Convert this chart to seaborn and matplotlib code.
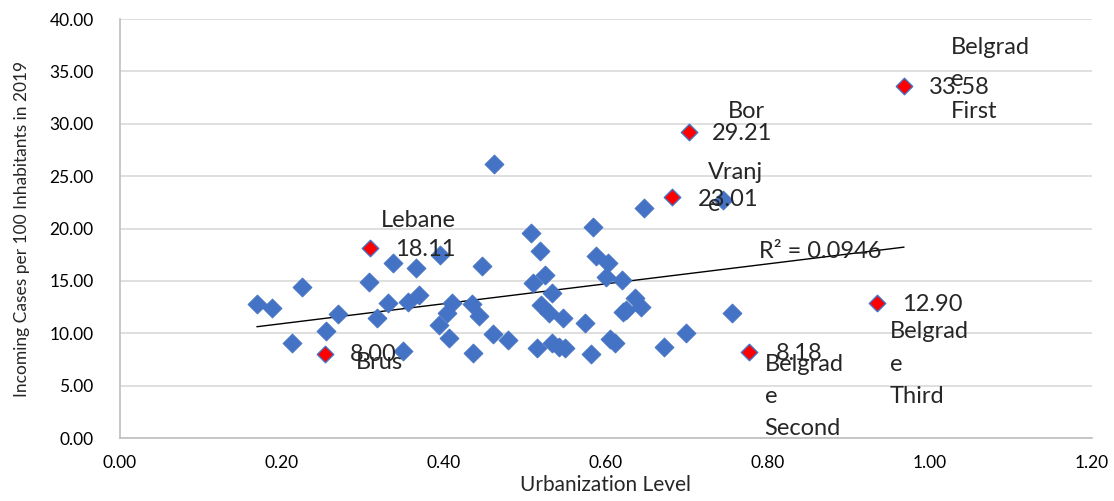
import numpy as np
import pandas as pd
import matplotlib
matplotlib.use("Agg")
import matplotlib.pyplot as plt
import seaborn as sns

# ---- data ----
urban_blue = [0.169, 0.188, 0.225, 0.212, 0.254, 0.269, 0.307, 0.317, 0.337, 0.365,
              0.395, 0.447, 0.331, 0.356, 0.369, 0.410, 0.404, 0.435, 0.443, 0.394,
              0.406, 0.349, 0.436, 0.460, 0.479, 0.462, 0.507, 0.519, 0.584, 0.588,
              0.602, 0.600, 0.620, 0.510, 0.525, 0.533, 0.520, 0.530, 0.547, 0.574,
              0.515, 0.533, 0.542, 0.549, 0.581, 0.605, 0.611, 0.621, 0.625, 0.636,
              0.643, 0.647, 0.744, 0.672, 0.699, 0.756]
cases_blue = [12.80, 12.42, 14.42, 9.07, 10.22, 11.84, 14.90, 11.46, 16.71, 16.24,
              17.48, 16.43, 12.89, 12.99, 13.66, 12.89, 11.94, 12.80, 11.65, 10.79,
              9.55, 8.31, 8.12, 9.93, 9.36, 26.17, 19.58, 17.86, 20.15, 17.38,
              16.71, 15.38, 15.09, 14.80, 15.57, 13.85, 12.70, 11.94, 11.46, 10.98,
              8.60, 9.07, 8.69, 8.60, 8.02, 9.46, 9.07, 12.03, 12.23, 13.37,
              12.51, 21.97, 22.73, 8.69, 10.03, 11.94]

names_red = ["Brus", "Lebane", "Vranje", "Bor", "Belgrade First", "Belgrade Second", "Belgrade Third"]
label_names = ["Brus", "Lebane", "Vranj\ne", "Bor", "Belgrad\ne\nFirst", "Belgrad\ne\nSecond", "Belgrad\ne\nThird"]
urban_red = [0.253, 0.309, 0.681, 0.702, 0.968, 0.777, 0.935]
cases_red = [8.00, 18.11, 23.01, 29.21, 33.58, 8.18, 12.90]

r2_text = "R\u00b2 = 0.0946"
x_ticks = [0.0, 0.2, 0.4, 0.6, 0.8, 1.0, 1.2]
y_ticks = [0, 5, 10, 15, 20, 25, 30, 35, 40]

df_blue = pd.DataFrame({"u": urban_blue, "c": cases_blue})
df_red = pd.DataFrame({"u": urban_red, "c": cases_red, "name": names_red})
df_all = pd.concat([df_blue, df_red[["u", "c"]]], ignore_index=True)

# ---- style ----
sns.set_theme(style="white")
plt.rcParams["font.family"] = ["Lato", "DejaVu Sans"]

fig = plt.figure(figsize=(11.14, 5.01), dpi=100)
ax = fig.add_axes([0.1077, 0.1257, 0.8725, 0.8363])

blue = "#4472C4"
sns.scatterplot(data=df_blue, x="u", y="c", ax=ax, marker="D", s=95,
                color=blue, edgecolor=blue, linewidth=0.5, zorder=3)
sns.scatterplot(data=df_red, x="u", y="c", ax=ax, marker="D", s=70,
                color="#FF0000", edgecolor=blue, linewidth=1.0, zorder=4)
sns.regplot(data=df_all, x="u", y="c", ax=ax, scatter=False, ci=None, truncate=True,
            line_kws={"color": "black", "linewidth": 1.0, "zorder": 2})

ax.set_xlim(0, 1.2)
ax.set_ylim(0, 40)
ax.set_xticks(x_ticks)
ax.set_yticks(y_ticks)
ax.set_xticklabels([f"{t:.2f}" for t in x_ticks])
ax.set_yticklabels([f"{t:.2f}" for t in y_ticks])
ax.tick_params(axis="both", labelsize=12.5, length=0, colors="#000000")
ax.tick_params(axis="y", pad=19)
ax.tick_params(axis="x", pad=12)
ax.grid(axis="y", color="#D9D9D9", linewidth=1.2)
ax.grid(axis="x", visible=False)
for s in ["top", "right"]:
    ax.spines[s].set_visible(False)
for s in ["left", "bottom"]:
    ax.spines[s].set_color("#BFBFBF")
    ax.spines[s].set_linewidth(1.2)
ax.set_axisbelow(True)

ax.set_xlabel("Urbanization Level", fontsize=15, labelpad=3)
ax.set_ylabel("Incoming Cases per 100 Inhabitants in 2019", fontsize=12.5, labelpad=14)

# ---- data labels ----
val_off = [(18, 0), (18, -1), (19, -2), (17, -1), (18, -1), (19, -1), (18, -1)]
name_off = [(22, -6), (8, 20), (26, 6), (28, 15), (34, 5), (11, -32), (9, -44)]
for i, row in df_red.iterrows():
    ax.annotate(f"{row['c']:.2f}", (row["u"], row["c"]), xytext=val_off[i],
                textcoords="offset points", ha="left", va="center",
                fontsize=17, zorder=5)
    ax.annotate(label_names[i], (row["u"], row["c"]), xytext=name_off[i],
                textcoords="offset points", ha="left", va="center",
                fontsize=17, linespacing=1.65, zorder=5)

ax.text(0.789, 17.8, r2_text, fontsize=17, ha="left", va="center", zorder=5)

fig.savefig("out.png", dpi=100)
